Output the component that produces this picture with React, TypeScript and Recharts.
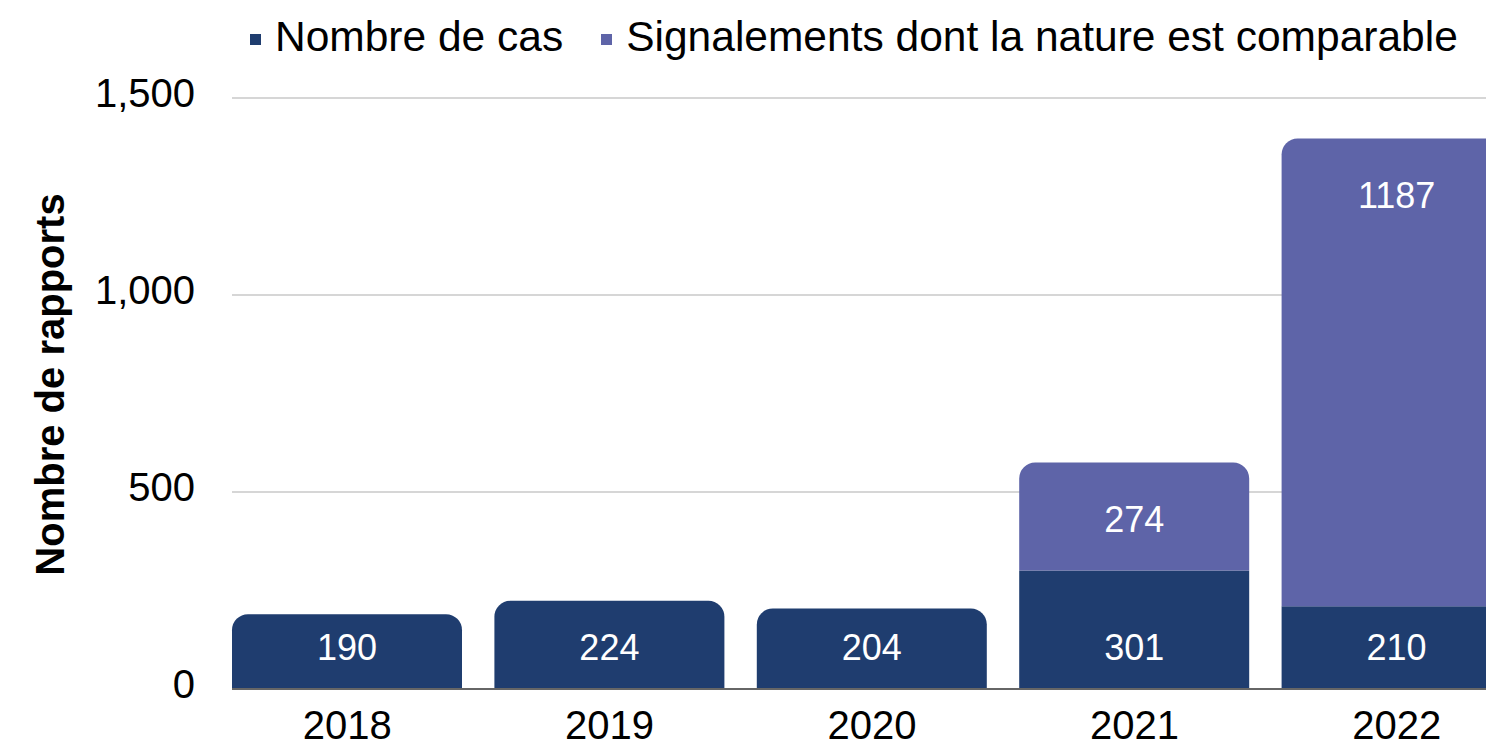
import React from "react";
import {
  BarChart,
  Bar,
  XAxis,
  YAxis,
  CartesianGrid,
  LabelList,
  Rectangle
} from "recharts";

const years = ["2018", "2019", "2020", "2021", "2022"];
const cases = [190, 224, 204, 301, 210];
const similar: (number | null)[] = [null, null, null, 274, 1187];
const yTicks = [0, 500, 1000, 1500];

const seriesNames = ["Nombre de cas", "Signalements dont la nature est comparable"];
const colors = ["#1F3D6F", "#5E64A8"];

const data = years.map((year, i) => ({
  year,
  cases: cases[i],
  similar: similar[i]
}));

const font = "'Liberation Sans', Arial, sans-serif";

// bottom segment gets the rounded top only when nothing is stacked above it
const CasesShape = (props: any) => {
  const onTop = props.payload.similar == null;
  return <Rectangle {...props} radius={onTop ? [16, 16, 0, 0] : 0} />;
};

export default function App() {
  return (
    <div
      style={{
        position: "absolute",
        left: 0,
        top: 0,
        width: 1486,
        height: 750,
        overflow: "hidden",
        fontFamily: font,
        background: "#fff"
      }}
    >
      <div
        style={{
          position: "absolute",
          left: 250,
          top: 13,
          display: "flex",
          alignItems: "center",
          fontSize: 42.5,
          color: "#000",
          whiteSpace: "nowrap"
        }}
      >
        {seriesNames.map((name, i) => (
          <div
            key={name}
            style={{ display: "flex", alignItems: "center", marginRight: 38 }}
          >
            <span
              style={{
                width: 11,
                height: 11,
                background: colors[i],
                marginRight: 14,
                marginTop: 4
              }}
            />
            <span>{name}</span>
          </div>
        ))}
      </div>
      <BarChart
        width={1528}
        height={750}
        data={data}
        margin={{ top: 98, right: 0, bottom: 0, left: 0 }}
        barCategoryGap={16}
      >
        <CartesianGrid vertical={false} stroke="#c8c8c8" strokeWidth={1.5} />
        <XAxis
          dataKey="year"
          height={61}
          padding={{ left: -16, right: 0 }}
          tickLine={false}
          tickSize={0}
          tickMargin={22}
          axisLine={{ stroke: "#666666", strokeWidth: 2 }}
          tick={{ fill: "#000", fontSize: 40, fontFamily: font }}
        />
        <YAxis
          width={232}
          domain={[0, 1500]}
          ticks={yTicks}
          axisLine={false}
          tickLine={false}
          tickSize={0}
          tickMargin={37}
          tick={{ fill: "#000", fontSize: 40, fontFamily: font, dy: -5 }}
          tickFormatter={(v: number) => v.toLocaleString("en-US")}
          label={{
            value: "Nombre de rapports",
            angle: -90,
            position: "insideLeft",
            offset: 50,
            dy: -9,
            style: {
              fontSize: 40,
              fontWeight: "bold",
              fill: "#000",
              fontFamily: font,
              textAnchor: "middle"
            }
          }}
        />
        <Bar
          dataKey="cases"
          stackId="a"
          fill={colors[0]}
          shape={CasesShape}
          isAnimationActive={false}
        >
          <LabelList
            dataKey="cases"
            position="insideBottom"
            offset={29}
            fill="#fff"
            fontSize={36}
            fontFamily={font}
          />
        </Bar>
        <Bar
          dataKey="similar"
          stackId="a"
          fill={colors[1]}
          radius={[16, 16, 0, 0]}
          isAnimationActive={false}
        >
          <LabelList
            dataKey="similar"
            position="insideTop"
            offset={44}
            fill="#fff"
            fontSize={36}
            fontFamily={font}
          />
        </Bar>
      </BarChart>
    </div>
  );
}
